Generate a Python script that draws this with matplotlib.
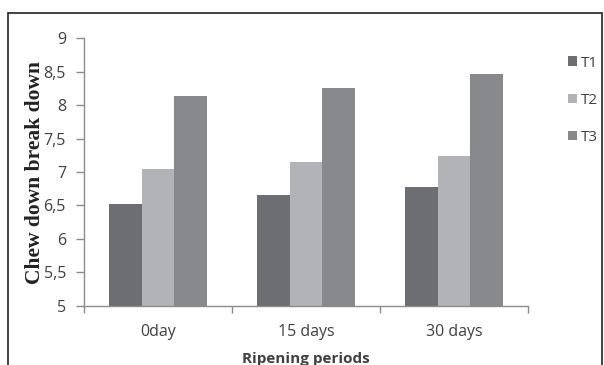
import numpy as np
import matplotlib.pyplot as plt
from matplotlib.patches import Rectangle
from matplotlib.ticker import FuncFormatter, MultipleLocator

periods = ['0day', '15 days', '30 days']
series_names = ['T1', 'T2', 'T3']
t1 = [6.52, 6.65, 6.78]
t2 = [7.04, 7.15, 7.24]
t3 = [8.13, 8.25, 8.47]
colors = ['#6d6e71', '#b2b3b6', '#88898c']

text_col = '#404040'
axis_col = '#8c8c8c'

fig = plt.figure(figsize=(6.04, 3.65), dpi=100)
ax = fig.add_axes([0.139, 0.1625, 0.735, 0.7325])

x = np.arange(len(periods))
w = 0.22
for i, (vals, name) in enumerate(zip([t1, t2, t3], series_names)):
    ax.bar(x + (i - 1) * w, np.array(vals) - 5, bottom=5, width=w,
           color=colors[i], label=name, edgecolor='none')

ax.set_xlim(-0.5, 2.5)
ax.set_ylim(5, 9)
ax.yaxis.set_major_locator(MultipleLocator(0.5))
ax.yaxis.set_major_formatter(FuncFormatter(lambda v, p: ('%g' % v).replace('.', ',')))

# category ticks sit on the boundaries, labels in the middle
ax.set_xticks([-0.5, 0.5, 1.5, 2.5])
ax.set_xticklabels([])
ax.set_xticks(x, minor=True)
ax.set_xticklabels(periods, minor=True)
ax.tick_params(axis='x', which='minor', length=0, pad=13,
               labelsize=11.5, labelcolor=text_col)
ax.tick_params(axis='x', which='major', length=5, color=axis_col, width=1)
ax.tick_params(axis='y', length=6, color=axis_col, width=1, pad=7,
               labelsize=11.5, labelcolor=text_col)
for lab in ax.get_xticklabels(minor=True) + ax.get_yticklabels():
    lab.set_fontfamily('Open Sans')

for s in ['top', 'right']:
    ax.spines[s].set_visible(False)
for s in ['left', 'bottom']:
    ax.spines[s].set_color(axis_col)
    ax.spines[s].set_linewidth(1)

ax.set_ylabel('Chew down break down', fontfamily='Liberation Serif',
              fontweight='bold', fontsize=15.5, color='#222222')
ax.yaxis.set_label_coords(-0.088, 0.5)
ax.set_xlabel('Ripening periods', fontfamily='Open Sans', fontweight='bold',
              fontsize=11, color=text_col)
ax.xaxis.set_label_coords(0.5, -0.173)

leg = ax.legend(loc='upper left', bbox_to_anchor=(0.918, 0.885),
                bbox_transform=fig.transFigure, frameon=False,
                handlelength=0.6, handleheight=0.6, handletextpad=0.2,
                labelspacing=1.45, prop={'family': 'Open Sans', 'size': 11})
for t in leg.get_texts():
    t.set_color(text_col)

# outer frame of the original figure (cut at the bottom)
fig.patches.append(Rectangle((8 / 604, -0.05), 594 / 604, 1.05 - 13 / 365,
                             transform=fig.transFigure, fill=False,
                             edgecolor='#222222', linewidth=1.2))

fig.savefig('out.png', dpi=100)
